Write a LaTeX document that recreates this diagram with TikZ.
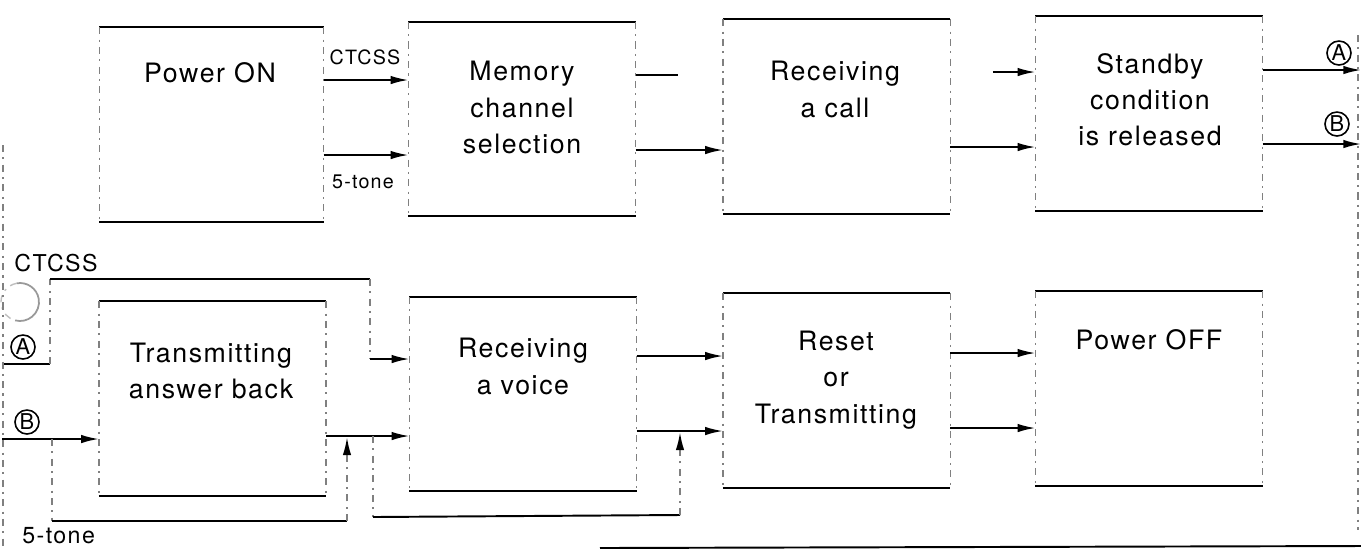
\documentclass[tikz,border=0pt]{standalone}
\usepackage{fontspec}
\setmainfont[LetterSpace=6]{TeX Gyre Heros}
\usetikzlibrary{arrows.meta}

\begin{document}
\begin{tikzpicture}
\tikzset{box/.style = {minimum width=2.26cm, minimum height=1.93cm, inner sep=0pt}}
\tikzset{side/.style = {gray, line width=.4pt, dash pattern=on 2pt off 1.5pt on .6pt off 1.5pt}}
\tikzset{rule/.style = {line width=.55pt}}
\tikzset{edge/.style = {-{Latex[length=5pt,width=2.4pt]}, line width=.5pt}}
\tikzset{uptip/.style = {-{Latex[length=5pt,width=2.4pt,color=black]}}}
\tikzset{lbl/.style = {font=\fontsize{7.6}{10.3}\selectfont, align=center}}
\tikzset{small/.style = {font=\fontsize{5.6}{6}\selectfont}}
\tikzset{mid/.style = {font=\fontsize{6.6}{7}\selectfont}}
\tikzset{tag/.style = {circle, draw, line width=.45pt, inner sep=0pt, minimum size=.24cm, font=\fontsize{6.2}{5}\selectfont}}

   \useasboundingbox (0,0) rectangle (13.61,-5.50);

   % boxes
   \node[box, minimum width=2.23cm] (pon) at (2.115,-1.245) {};
   \node[box] (mem)   at (5.22,-1.19)  {};
   \node[box] (call)  at (8.365,-1.165) {};
   \node[box] (stby)  at (11.49,-1.135) {};
   \node[box] (tab)   at (2.125,-3.985) {};
   \node[box] (voice) at (5.23,-3.94)  {};
   \node[box] (reset) at (8.365,-3.905) {};
   \node[box] (poff)  at (11.49,-3.885) {};
   \foreach \b in {pon,mem,call,stby,tab,voice,reset,poff}
     {\draw[rule] (\b.north west) -- (\b.north east);
      \draw[rule] (\b.south west) -- (\b.south east);
      \draw[side] (\b.north west) -- (\b.south west);
      \draw[side] (\b.north east) -- (\b.south east);}

   \node[lbl] (ponT)   at (2.10,-0.73)  {Power ON};
   \node[lbl] (memT)   at (5.22,-1.075) {Memory\\channel\\selection};
   \node[lbl] (callT)  at (8.35,-0.895) {Receiving\\a call};
   \node[lbl] (stbyT)  at (11.50,-1.00) {Standby\\condition\\is released};
   \node[lbl] (tabT)   at (2.11,-3.71)  {Transmitting\\answer back};
   \node[lbl] (voiceT) at (5.23,-3.665) {Receiving\\a voice};
   \node[lbl] (resetT) at (8.36,-3.80)  {Reset\\or\\Transmitting};
   \node[lbl] (poffT)  at (11.49,-3.40) {Power OFF};

   % levels of the arrows
   \coordinate (r1) at (0,-0.80);  \coordinate (r2) at (0,-1.55);
   \coordinate (m1) at (0,-0.75);  \coordinate (m2) at (0,-1.50);
   \coordinate (c1) at (0,-0.72);  \coordinate (c2) at (0,-1.47);
   \coordinate (s1) at (0,-0.70);  \coordinate (s2) at (0,-1.44);
   \coordinate (v1) at (0,-3.56);  \coordinate (v2) at (0,-4.31);
   \coordinate (t1) at (0,-3.53);  \coordinate (t2) at (0,-4.28);

   % top row
   \draw[edge] (pon.east |- r1) -- (mem.west |- r1);
   \draw[edge] (pon.east |- r2) -- (mem.west |- r2);
   \node[small] (ctcss1) at (3.65,-0.57) {CTCSS};
   \node[small] (tone1)  at (3.63,-1.82) {5-tone};
   \coordinate (mEnd) at (6.78,-0.75);
   \draw[rule] (mem.east |- m1) -- (mEnd);
   \draw[edge] (mem.east |- m2) -- (call.west |- m2);
   \coordinate (cStart) at (9.93,-0.72);
   \draw[edge] (cStart) -- (stby.west |- c1);
   \draw[edge] (call.east |- c2) -- (stby.west |- c2);
   \coordinate (aOut) at (13.61,-0.70);
   \coordinate (bOut) at (13.61,-1.44);
   \draw[edge] (stby.east |- s1) -- (aOut);
   \draw[edge] (stby.east |- s2) -- (bOut);
   \node[tag] (aTop) at (13.39,-0.53) {A};
   \node[tag] (bTop) at (13.37,-1.24) {B};

   % bottom row
   \node[mid, anchor=west] (ctcss2) at (0.02,-2.63) {CTCSS};
   \draw[line width=.5pt, gray!80] (0.20,-3.02) ++(100:0.19) arc (100:-105:0.19);
   \draw[side, gray!50] (0.20,-3.02) ++(100:0.19) arc (100:255:0.19);
   \node[tag] (aIn) at (0.23,-3.47) {A};
   \node[tag] (bIn) at (0.27,-4.22) {B};
   \node[mid, anchor=west] (tone2) at (0.10,-5.36) {5-tone};

   \coordinate (aL) at (0.02,-3.64);  \coordinate (aC) at (0.50,-3.64);
   \coordinate (aU) at (0.50,-2.79);  \coordinate (aR) at (3.70,-2.79);
   \coordinate (aD) at (3.70,-3.59);
   \draw[rule] (aL) -- (aC);
   \draw[side] (aC) -- (aU);
   \draw[rule] (aU) -- (aR);
   \draw[side] (aR) -- (aD);
   \draw[edge] (aD) -- (voice.west |- aD);

   \coordinate (bL) at (0.02,-4.39);
   \draw[edge] (bL) -- (tab.west |- bL);
   \coordinate (tv) at (0,-4.36);
   \draw[edge] (tab.east |- tv) -- (voice.west |- tv);

   % 5-tone bypass
   \coordinate (f1) at (0.52,-4.39);  \coordinate (f2) at (0.52,-5.21);
   \coordinate (f3) at (3.47,-5.21);  \coordinate (j1) at (3.47,-4.375);
   \draw[side] (f1) -- (f2);
   \draw[rule] (f2) -- (f3);
   \draw[side, uptip] (f3) -- (j1);

   \coordinate (g1) at (3.73,-4.36);  \coordinate (g2) at (3.73,-5.17);
   \coordinate (g3) at (6.80,-5.15);  \coordinate (j2) at (6.80,-4.325);
   \draw[side] (g1) -- (g2);
   \draw[rule] (g2) -- (g3);
   \draw[side, uptip] (g3) -- (j2);

   \draw[edge] (voice.east |- v1) -- (reset.west |- v1);
   \draw[edge] (voice.east |- v2) -- (reset.west |- v2);
   \draw[edge] (reset.east |- t1) -- (poff.west |- t1);
   \draw[edge] (reset.east |- t2) -- (poff.west |- t2);

   % page edges
   \draw[side] (0.03,-1.45) -- (0.03,-5.50);
   \draw[side] (13.58,-0.35) -- (13.58,-5.30);
   \draw[rule] (6.00,-5.48) -- (13.61,-5.46);

\end{tikzpicture}
\end{document}
